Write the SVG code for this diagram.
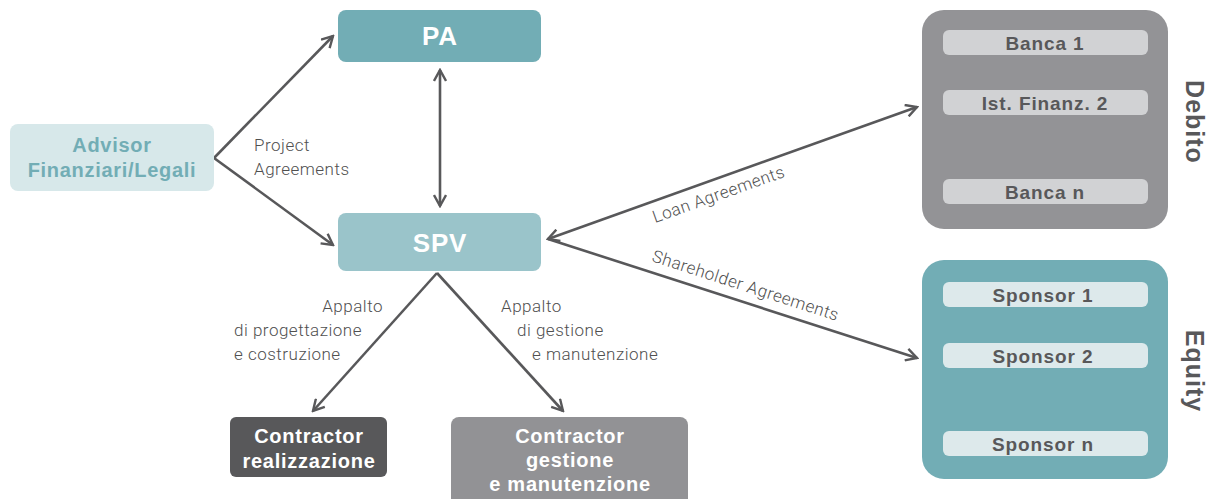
<svg xmlns="http://www.w3.org/2000/svg" width="1208" height="499" viewBox="0 0 1208 499">
<style>
.b{font-family:"Liberation Sans",Arial,sans-serif;font-weight:bold;text-anchor:middle}
.l{font-family:Roboto,"Liberation Sans",sans-serif;font-weight:300;font-size:17px;letter-spacing:0.5px;fill:#505050}
.c{stroke:#58585a;stroke-width:2.6;fill:none}
.bar{fill:#d1d2d4}
.sbar{fill:#dde9eb}
.bt{font-size:19px;letter-spacing:0.9px;fill:#58585a}
.ct{font-size:20px;letter-spacing:0.75px;fill:#fff}
</style>
<defs>
<marker id="ah" viewBox="0 0 14 14" refX="12" refY="7" markerWidth="14" markerHeight="14" markerUnits="userSpaceOnUse" orient="auto-start-reverse">
<path d="M1,1 L12,7 L1,13" fill="none" stroke="#58585a" stroke-width="2.4"/>
</marker>
</defs>
<g id="connectors">
<line class="c" x1="214" y1="158" x2="333" y2="36" marker-end="url(#ah)"/>
<line class="c" x1="214" y1="158" x2="333" y2="245" marker-end="url(#ah)"/>
<line class="c" x1="440" y1="70" x2="440" y2="206" marker-start="url(#ah)" marker-end="url(#ah)"/>
<line class="c" x1="548" y1="239" x2="917" y2="107" marker-start="url(#ah)" marker-end="url(#ah)"/>
<line class="c" x1="548" y1="239" x2="917" y2="358" marker-end="url(#ah)"/>
<line class="c" x1="437" y1="273" x2="313" y2="411" marker-end="url(#ah)"/>
<line class="c" x1="437" y1="273" x2="563" y2="411" marker-end="url(#ah)"/>
<text class="l" x="254" y="151">Project</text>
<text class="l" x="254" y="175">Agreements</text>
<text class="l" transform="translate(655,223) rotate(-19.6)">Loan Agreements</text>
<text class="l" transform="translate(651,261) rotate(17.9)">Shareholder Agreements</text>
<text class="l" x="383" y="312" text-anchor="end">Appalto</text>
<text class="l" x="234" y="336">di progettazione</text>
<text class="l" x="234" y="360">e costruzione</text>
<text class="l" x="501" y="312">Appalto</text>
<text class="l" x="517" y="336">di gestione</text>
<text class="l" x="532" y="360">e manutenzione</text>
</g>
<g id="pa">
<rect x="338" y="10" width="203" height="52" rx="8" fill="#72adb5"/>
<text class="b" x="440" y="45" font-size="26" letter-spacing="1" fill="#fff">PA</text>
</g>
<g id="spv">
<rect x="338" y="213" width="203" height="58" rx="8" fill="#9ac4ca"/>
<text class="b" x="440" y="252" font-size="26" letter-spacing="0.8" fill="#fff">SPV</text>
</g>
<g id="advisor">
<rect x="10" y="124" width="204" height="67" rx="8" fill="#d7e8ea"/>
<text class="b" x="112" y="152" font-size="20" letter-spacing="0.7" fill="#72adb5">Advisor</text>
<text class="b" x="112" y="177" font-size="20" letter-spacing="0.7" fill="#72adb5">Finanziari/Legali</text>
</g>
<g id="contractor-realizzazione">
<rect x="230" y="417" width="157" height="60" rx="6" fill="#58585a"/>
<text class="b ct" x="309" y="443">Contractor</text>
<text class="b ct" x="309" y="468">realizzazione</text>
</g>
<g id="contractor-gestione">
<rect x="451" y="417" width="237" height="90" rx="8" fill="#929295"/>
<text class="b ct" x="570" y="443">Contractor</text>
<text class="b ct" x="570" y="467">gestione</text>
<text class="b ct" x="570" y="491">e manutenzione</text>
</g>
<g id="debito">
<rect x="922" y="10" width="246" height="219" rx="22" fill="#939396"/>
<rect class="bar" x="943" y="30" width="205" height="25" rx="6"/>
<text class="b bt" x="1045" y="50">Banca 1</text>
<rect class="bar" x="943" y="90" width="205" height="25" rx="6"/>
<text class="b bt" x="1045" y="110">Ist. Finanz. 2</text>
<rect class="bar" x="943" y="179" width="205" height="25" rx="6"/>
<text class="b bt" x="1045" y="199">Banca n</text>
<text class="b" transform="translate(1186,122) rotate(90)" font-size="25" letter-spacing="1" fill="#58585a">Debito</text>
</g>
<g id="equity">
<rect x="922" y="260" width="246" height="219" rx="22" fill="#72adb5"/>
<rect class="sbar" x="943" y="282" width="205" height="25" rx="6"/>
<text class="b bt" x="1043" y="302">Sponsor 1</text>
<rect class="sbar" x="943" y="343" width="205" height="25" rx="6"/>
<text class="b bt" x="1043" y="363">Sponsor 2</text>
<rect class="sbar" x="943" y="431" width="205" height="25" rx="6"/>
<text class="b bt" x="1043" y="451">Sponsor n</text>
<text class="b" transform="translate(1186,371) rotate(90)" font-size="25" letter-spacing="1" fill="#58585a">Equity</text>
</g>
</svg>
